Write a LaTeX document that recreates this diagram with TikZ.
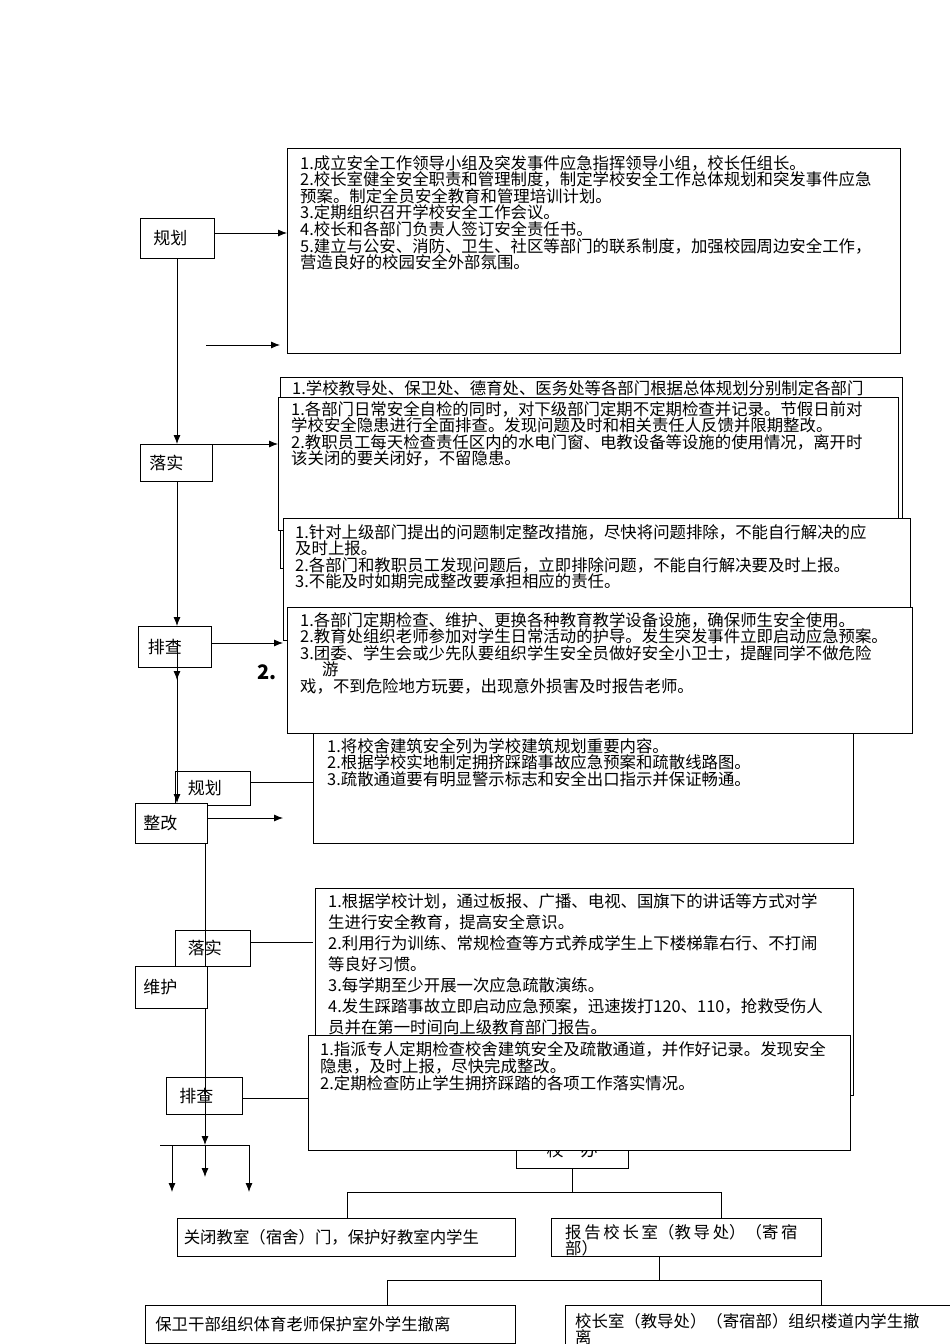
\documentclass[tikz,border=0pt]{standalone}
\usepackage{fontspec}
\setmainfont{Noto Sans CJK SC}
\usetikzlibrary{arrows.meta}
\begin{document}
\begin{tikzpicture}[x=1pt,y=-1pt,
  bx/.style={draw,line width=0.8pt,fill=white},
  tx/.style={anchor=north west,inner sep=0pt,align=left,font=\fontsize{16.4}{16.6}\selectfont},
  lb/.style={draw,line width=0.8pt,fill=white,anchor=north west,inner sep=0pt,font=\fontsize{17}{18}\selectfont},
  ar/.style={-{Latex[length=9pt,width=7pt]},line width=0.8pt},
  ln/.style={line width=0.8pt}]
\useasboundingbox (0,0) rectangle (950,1344);
% top box
\draw[bx] (287,148) rectangle (900,353);
\node[tx] (t1) at (300,155) {1.成立安全工作领导小组及突发事件应急指挥领导小组，校长任组长。\\2.校长室健全安全职责和管理制度，制定学校安全工作总体规划和突发事件应急\\预案。制定全员安全教育和管理培训计划。\\3.定期组织召开学校安全工作会议。\\4.校长和各部门负责人签订安全责任书。\\5.建立与公安、消防、卫生、社区等部门的联系制度，加强校园周边安全工作，\\营造良好的校园安全外部氛围。};
\node[lb,minimum width=74pt,minimum height=40pt] (g1) at (140,218) {\hspace*{-14pt}规划};
\coordinate (c1) at (206,345); \coordinate (c1e) at (280,345);
\draw[ar] (c1) -- (c1e);
\draw[ar] (214,233) -- (287,233);
% hidden box
\draw[bx] (280,377) rectangle (902,568);
\node[tx] (t0) at (292,380) {1.学校教导处、保卫处、德育处、医务处等各部门根据总体规划分别制定各部门};
% box 2
\draw[bx] (278,397) rectangle (898,530);
\node[tx] (t2) at (291,401) {1.各部门日常安全自检的同时，对下级部门定期不定期检查并记录。节假日前对\\学校安全隐患进行全面排查。发现问题及时和相关责任人反馈并限期整改。\\2.教职员工每天检查责任区内的水电门窗、电教设备等设施的使用情况，离开时\\该关闭的要关闭好，不留隐患。};
% box 3
\draw[bx] (283,518) rectangle (910,640);
\node[tx] (t3) at (295,524) {1.针对上级部门提出的问题制定整改措施，尽快将问题排除，不能自行解决的应\\及时上报。\\2.各部门和教职员工发现问题后，立即排除问题，不能自行解决要及时上报。\\3.不能及时如期完成整改要承担相应的责任。};
% box 5 (behind box4)
\draw[bx] (313,720) rectangle (853,843);
\node[tx] (t5) at (327,738) {1.将校舍建筑安全列为学校建筑规划重要内容。\\2.根据学校实地制定拥挤踩踏事故应急预案和疏散线路图。\\3.疏散通道要有明显警示标志和安全出口指示并保证畅通。};
% box 4
\draw[bx] (287,607) rectangle (912,733);
\node[tx] (t4) at (300,612) {1.各部门定期检查、维护、更换各种教育教学设备设施，确保师生安全使用。\\2.教育处组织老师参加对学生日常活动的护导。发生突发事件立即启动应急预案。\\3.团委、学生会或少先队要组织学生安全员做好安全小卫士，提醒同学不做危险\\\hspace*{22pt}游\\戏，不到危险地方玩要，出现意外损害及时报告老师。};
\node[anchor=west,inner sep=0pt,font=\bfseries\fontsize{20}{20}\selectfont] (two) at (257,672) {2.};
% main spine
\node[lb,minimum width=72pt,minimum height=37pt] (l1) at (140,444) {\hspace*{-20pt}落实};
\node[lb,minimum width=73pt,minimum height=41pt] (p1) at (138,626) {\hspace*{-20pt}排查};
\draw[ar] (177,258) -- (177,444);
\draw[ln] (177,481) -- (177,580);
\draw[ar] (177,580) -- (177,626);
\draw[ar] (177,640) -- (177,680);
\draw[ar] (212,444) -- (278,444);
\draw[ar] (211,643) -- (283,643);
\node[lb,minimum width=75pt,minimum height=34pt] (g2) at (175,771) {\hspace*{-16pt}规划};
\draw[ln] (250,782) -- (313,782);
\draw[ar] (177,667) -- (177,803);
\node[lb,minimum width=72pt,minimum height=40pt] (z1) at (135,803) {\hspace*{-22pt}整改};
\draw[ar] (207,818) -- (283,818);
% lower
\draw[bx] (315,888) rectangle (853,1095);
\node[tx,font=\fontsize{16.4}{21}\selectfont] (t6) at (328,893) {1.根据学校计划，通过板报、广播、电视、国旗下的讲话等方式对学\\生进行安全教育，提高安全意识。\\2.利用行为训练、常规检查等方式养成学生上下楼梯靠右行、不打闹\\等良好习惯。\\3.每学期至少开展一次应急疏散演练。\\4.发生踩踏事故立即启动应急预案，迅速拨打120、110，抢救受伤人\\员并在第一时间向上级教育部门报告。};
\draw[ln] (205,843) -- (205,1140);
\node[lb,minimum width=75pt,minimum height=36pt,fill=none] (l2) at (175,930) {\hspace*{-16pt}落实};
\draw[ln] (250,942) -- (313,942);
\node[lb,minimum width=72pt,minimum height=42pt] (w1) at (135,966) {\hspace*{-22pt}维护};
\draw[ln] (205,1008) -- (205,1140);
% 校办 box
\draw[bx] (516,1135) rectangle (628,1168);
\node[font=\fontsize{17}{18}\selectfont] (xb) at (572,1150) {校\quad 办};
\draw[bx] (308,1035) rectangle (850,1150);
\node[tx,font=\fontsize{16.4}{17}\selectfont] (t7) at (320,1041) {1.指派专人定期检查校舍建筑安全及疏散通道，并作好记录。发现安全\\隐患，及时上报，尽快完成整改。\\2.定期检查防止学生拥挤踩踏的各项工作落实情况。};
\node[lb,minimum width=76pt,minimum height=37pt,fill=none] (p2) at (166,1077) {\hspace*{-16pt}排查};
\draw[ln] (242,1098) -- (308,1098);
\draw[ar] (205,1114) -- (205,1145);
\draw[ln] (160,1145) -- (250,1145);
\draw[ar] (172,1145) -- (172,1192);
\draw[ar] (205,1145) -- (205,1177);
\draw[ar] (249,1145) -- (249,1192);
% tree
\node[lb,minimum width=338pt,minimum height=38pt,font=\fontsize{16.4}{17}\selectfont] (a1) at (177,1218) {\hspace*{-30pt}关闭教室（宿舍）门，保护好教室内学生};
\node[lb,minimum width=270pt,minimum height=38pt] (a2) at (551,1218) {};
\node[tx,font=\fontsize{16.4}{16}\selectfont] (a2t) at (565,1224) {报\,告\,校\,长\,室（教\,导\,处）（寄\,宿\\部）};
\draw[ln] (572,1168) -- (572,1192) (347,1192) -- (721,1192) (347,1192) -- (347,1218) (721,1192) -- (721,1218);
\draw[ln] (659,1256) -- (659,1280) (387,1280) -- (821,1280) (387,1280) -- (387,1305) (821,1280) -- (821,1305);
\node[lb,minimum width=370pt,minimum height=38pt,font=\fontsize{16.4}{17}\selectfont] (b1) at (145,1305) {\hspace*{-55pt}保卫干部组织体育老师保护室外学生撤离};
\draw[ln] (565,1305) -- (952,1305) (565,1305) -- (565,1346);
\node[tx,font=\fontsize{16.4}{15}\selectfont] (b2t) at (575,1313) {校长室（教导处）（寄宿部）组织楼道内学生撤\\离};
\end{tikzpicture}
\end{document}
